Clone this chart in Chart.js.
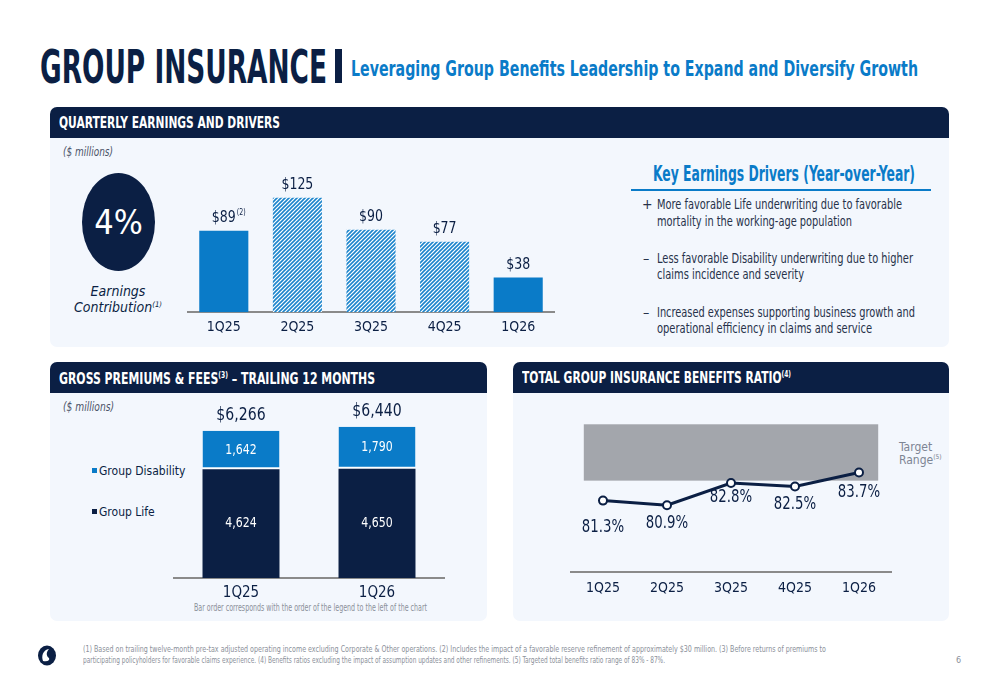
<!DOCTYPE html>
<html>
<head>
<meta charset="utf-8">
<script src="https://cdn.jsdelivr.net/npm/chart.js@4.4.1/dist/chart.umd.min.js"></script>
<style>
body { margin: 0; width: 1000px; height: 685px; background: #fff; position: relative; overflow: hidden;
       font-family: "Liberation Sans Narrow", "DejaVu Sans Condensed", Roboto, sans-serif; color: #0b1f44; }
.t { position: absolute; white-space: nowrap; line-height: 1; transform-origin: 0 50%; }
.panel { position: absolute; background: #f3f7fd; border-radius: 7px; }
.hdr { position: absolute; left: 0; right: 0; top: 0; height: 31px; background: #0b1f44; border-radius: 7px 7px 0 0; }
.hd { color: #fff; font-weight: bold; font-size: 15px; }
.bul { font-size: 14px; color: #27324a; }
.note { font-size: 9px; color: #8b909a; }
.box { position: absolute; }
sup { font-size: 0.55em; vertical-align: 0.7em; line-height: 0; }
.sq { display: inline-block; width: 5px; height: 5px; margin-right: 2px; vertical-align: 2px; }
</style>
</head>
<body>

<div class="t" data-w="287" style="left:40px;top:43px;font-size:47px;font-weight:bold">GROUP INSURANCE</div>
<div class="box" style="left:335px;top:49px;width:7px;height:34px;background:#0b1f44"></div>
<div class="t" data-w="567" style="left:351px;top:58px;font-size:22px;font-weight:bold;color:#0a7bc8">Leveraging Group Benefits Leadership to Expand and Diversify Growth</div>

<div class="panel" style="left:50px;top:107px;width:899px;height:240px"><div class="hdr"></div></div>
<div class="panel" style="left:50px;top:362px;width:437px;height:259px"><div class="hdr"></div></div>
<div class="panel" style="left:513px;top:362px;width:436px;height:259px"><div class="hdr"></div></div>

<div class="t hd" data-w="221" style="left:59px;top:116px">QUARTERLY EARNINGS AND DRIVERS</div>
<div class="t hd" data-w="316" style="left:59px;top:372px">GROSS PREMIUMS &amp; FEES<sup>(3)</sup> – TRAILING 12 MONTHS</div>
<div class="t hd" data-w="269" style="left:522px;top:371px">TOTAL GROUP INSURANCE BENEFITS RATIO<sup>(4)</sup></div>

<div class="t" data-w="50" style="left:63px;top:146px;font-size:12px;font-style:italic;color:#4b5468">($ millions)</div>
<div class="t" data-w="51" style="left:63px;top:401px;font-size:12px;font-style:italic;color:#4b5468">($ millions)</div>

<div class="box" style="left:82px;top:173px;width:73px;height:98px;border-radius:50%;background:#0b1f44"></div>
<div class="t" style="left:82px;top:205px;width:73px;text-align:center;font-size:34px;color:#fff">4%</div>
<div class="t" style="left:58px;top:284px;width:120px;text-align:center;font-size:14px;font-style:italic">Earnings</div>
<div class="t" style="left:58px;top:300px;width:120px;text-align:center;font-size:14px;font-style:italic">Contribution<sup>(1)</sup></div>

<div class="t" data-w="262" style="left:653px;top:164px;font-size:21px;font-weight:bold;color:#0a7bc8">Key Earnings Drivers (Year-over-Year)</div>
<div class="box" style="left:631px;top:189px;width:300px;height:1.5px;background:#0a7bc8"></div>
<div class="t bul" style="left:642px;top:197px">+</div>
<div class="t bul" data-w="245" style="left:657px;top:197px">More favorable Life underwriting due to favorable</div>
<div class="t bul" data-w="195" style="left:657px;top:214px">mortality in the working-age population</div>
<div class="t bul" style="left:643px;top:251px">–</div>
<div class="t bul" data-w="256" style="left:657px;top:251px">Less favorable Disability underwriting due to higher</div>
<div class="t bul" data-w="147" style="left:657px;top:267px">claims incidence and severity</div>
<div class="t bul" style="left:643px;top:305px">–</div>
<div class="t bul" data-w="258" style="left:657px;top:305px">Increased expenses supporting business growth and</div>
<div class="t bul" data-w="215" style="left:657px;top:321px">operational efficiency in claims and service</div>

<div id="legend2"></div>
<div class="t" data-w="233" style="left:194px;top:603px;font-size:10px;color:#8b909a">Bar order corresponds with the order of the legend to the left of the chart</div>

<div class="t" style="left:899px;top:441px;font-size:12px;color:#7d8594">Target</div>
<div class="t" style="left:899px;top:454px;font-size:12px;color:#7d8594">Range<sup>(5)</sup></div>

<svg class="box" style="left:37px;top:645px" width="20" height="21" viewBox="0 0 20 21">
  <ellipse cx="10" cy="10.5" rx="9" ry="10" fill="#0b1f44"/>
  <path d="M6 16 C4 11 6 5 12 4 C9 7 9 11 12 13 C13 15 11 17 6 16 Z" fill="#fff"/>
</svg>
<div class="t note" data-w="743" style="left:83px;top:645px">(1) Based on trailing twelve-month pre-tax adjusted operating income excluding Corporate &amp; Other operations. (2) Includes the impact of a favorable reserve refinement of approximately $30 million. (3) Before returns of premiums to</div>
<div class="t note" data-w="582" style="left:83px;top:656px">participating policyholders for favorable claims experience. (4) Benefits ratios excluding the impact of assumption updates and other refinements. (5) Targeted total benefits ratio range of 83% - 87%.</div>
<div class="t note" style="left:956px;top:656px">6</div>

<div class="box" style="left:187px;top:160px;width:368px;height:183px"><canvas id="earnings"></canvas></div>
<div class="box" style="left:173px;top:395px;width:272px;height:213px"><canvas id="premiums"></canvas></div>
<div class="box" style="left:565px;top:395px;width:332px;height:210px"><canvas id="ratio"></canvas></div>

<script>
const FONT = '"Liberation Sans Narrow", "DejaVu Sans Condensed", Roboto, sans-serif';
const NAVY = "#0b1f44";
const BLUE = "#0a7bc8";
const SQUEEZE = 0.87;

// quarterly earnings ($ millions)
const quarters = ["1Q25", "2Q25", "3Q25", "4Q25", "1Q26"];
const earnings = [89, 125, 90, 77, 38];
const earningsLabels = ["$89", "$125", "$90", "$77", "$38"];
const earningsNotes = ["(2)", "", "", "", ""];

// gross premiums & fees, trailing 12 months
const periods = ["1Q25", "1Q26"];
const groupLife = [4624, 4650];
const groupDisability = [1642, 1790];
const premiumTotals = ["$6,266", "$6,440"];

// benefits ratio (%)
const benefitsRatio = [81.3, 80.9, 82.8, 82.5, 83.7];
const targetRange = [83, 87.8];

Chart.defaults.font.family = FONT;
Chart.defaults.color = NAVY;
Chart.defaults.animation = false;

function fitText() {
    document.querySelectorAll("[data-w]").forEach(el => {
        const w = el.getBoundingClientRect().width;
        el.style.transform = "scaleX(" + (parseFloat(el.dataset.w) / w) + ")";
    });
}

// draw canvas text a bit narrower, the slide font is condensed
function narrowText(ctx, text, x, y) {
    ctx.save();
    ctx.translate(x, y);
    ctx.scale(SQUEEZE, 1);
    ctx.fillText(text, 0, 0);
    ctx.restore();
}

function hatch() {
    const c = document.createElement("canvas");
    c.width = 4; c.height = 4;
    const g = c.getContext("2d");
    g.fillStyle = "#ffffff";
    g.fillRect(0, 0, 4, 4);
    g.strokeStyle = "#1b84cc";
    g.lineWidth = 1.6;
    g.beginPath();
    g.moveTo(-1, 5); g.lineTo(5, -1);
    g.moveTo(-1, 1); g.lineTo(1, -1);
    g.moveTo(3, 5); g.lineTo(5, 3);
    g.stroke();
    return g.createPattern(c, "repeat");
}

function xAxis(size, pad) {
    return {
        grid: { display: false, drawTicks: false },
        border: { display: true, color: "#8a8a8a", width: 2 },
        ticks: { font: { size: size }, color: NAVY, padding: pad },
    };
}

// --- quarterly earnings bars
const pat = hatch();
new Chart(document.getElementById("earnings"), {
    type: "bar",
    data: {
        labels: quarters,
        datasets: [{
            data: earnings,
            backgroundColor: [BLUE, pat, pat, pat, BLUE],
            barPercentage: 0.667,
            categoryPercentage: 1,
        }],
    },
    options: {
        responsive: true,
        maintainAspectRatio: false,
        layout: { padding: { top: 24 } },
        plugins: { legend: { display: false }, tooltip: { enabled: false } },
        scales: {
            x: xAxis(14, 7),
            y: { display: false, min: 0, max: 140 },
        },
    },
    plugins: [{
        id: "barLabels",
        afterDatasetsDraw(chart) {
            const ctx = chart.ctx;
            ctx.save();
            ctx.fillStyle = NAVY;
            ctx.textBaseline = "middle";
            chart.getDatasetMeta(0).data.forEach((bar, i) => {
                ctx.font = "16px " + FONT;
                ctx.textAlign = "center";
                const y = bar.y - 13;
                narrowText(ctx, earningsLabels[i], bar.x, y);
                if (earningsNotes[i]) {
                    const w = ctx.measureText(earningsLabels[i]).width * SQUEEZE;
                    ctx.font = "8px " + FONT;
                    ctx.textAlign = "left";
                    narrowText(ctx, earningsNotes[i], bar.x + w / 2 + 1, y - 5);
                }
            });
            ctx.restore();
        },
    }],
});

// --- gross premiums stacked bars
const premiumsChart = new Chart(document.getElementById("premiums"), {
    type: "bar",
    data: {
        labels: periods,
        datasets: [
            { label: "Group Life", data: groupLife, backgroundColor: NAVY,
              barPercentage: 0.566, categoryPercentage: 1 },
            { label: "Group Disability", data: groupDisability, backgroundColor: BLUE,
              borderColor: "#ffffff", borderWidth: { top: 0, left: 0, right: 0, bottom: 2 }, borderSkipped: false,
              barPercentage: 0.566, categoryPercentage: 1 },
        ],
    },
    options: {
        responsive: true,
        maintainAspectRatio: false,
        layout: { padding: { top: 18.5 } },
        plugins: { legend: { display: false }, tooltip: { enabled: false } },
        scales: {
            x: Object.assign(xAxis(15, 6), { stacked: true }),
            y: { display: false, stacked: true, min: 0, max: 7000 },
        },
    },
    plugins: [{
        id: "stackLabels",
        afterDatasetsDraw(chart) {
            const ctx = chart.ctx;
            ctx.save();
            ctx.textAlign = "center";
            ctx.textBaseline = "middle";
            chart.data.datasets.forEach((ds, d) => {
                chart.getDatasetMeta(d).data.forEach((bar, i) => {
                    ctx.font = "14px " + FONT;
                    ctx.fillStyle = "#ffffff";
                    narrowText(ctx, ds.data[i].toLocaleString("en-US"), bar.x, (bar.y + bar.base) / 2);
                    if (d === chart.data.datasets.length - 1) {
                        ctx.font = "18px " + FONT;
                        ctx.fillStyle = NAVY;
                        narrowText(ctx, premiumTotals[i], bar.x, bar.y - 15);
                    }
                });
            });
            ctx.restore();
        },
    }],
});

// html legend, in dataset order from top of the stack
const legendColors = { "Group Life": NAVY, "Group Disability": BLUE };
const legendTops = [465, 506];
document.getElementById("legend2").innerHTML = premiumsChart.data.datasets.slice().reverse().map((ds, i) =>
    `<div class="t" style="left:92px;top:${legendTops[i]}px;font-size:12px"><span class="sq" style="background:${legendColors[ds.label]}"></span>${ds.label}</div>`
).join("");

// --- benefits ratio line
new Chart(document.getElementById("ratio"), {
    type: "line",
    data: {
        labels: quarters,
        datasets: [{
            data: benefitsRatio,
            borderColor: NAVY,
            borderWidth: 3,
            tension: 0,
            pointRadius: 4,
            pointBorderWidth: 2,
            pointBackgroundColor: "#ffffff",
            pointBorderColor: NAVY,
        }],
    },
    options: {
        responsive: true,
        maintainAspectRatio: false,
        layout: { padding: { top: 15.2 } },
        plugins: {
            legend: { display: false },
            tooltip: { enabled: false },
        },
        scales: {
            x: Object.assign(xAxis(14, 8), { offset: true }),
            y: { display: false, min: 75.2, max: 89 },
        },
    },
    plugins: [{
        id: "targetBand",
        beforeDatasetsDraw(chart) {
            const { ctx, scales: { x, y } } = chart;
            const left = x.getPixelForValue(-0.3), right = x.getPixelForValue(4.3);
            const top = y.getPixelForValue(targetRange[1]), bottom = y.getPixelForValue(targetRange[0]);
            ctx.save();
            ctx.fillStyle = "#a3a6ac";
            ctx.fillRect(left, top, right - left, bottom - top);
            ctx.restore();
        },
        afterDatasetsDraw(chart) {
            const ctx = chart.ctx;
            const offsets = [27, 18, 15, 18, 20];
            ctx.save();
            ctx.font = "17px " + FONT;
            ctx.fillStyle = NAVY;
            ctx.textAlign = "center";
            ctx.textBaseline = "middle";
            chart.getDatasetMeta(0).data.forEach((pt, i) => {
                narrowText(ctx, benefitsRatio[i].toFixed(1) + "%", pt.x, pt.y + offsets[i]);
            });
            ctx.restore();
        },
    }],
});

fitText();
</script>
</body>
</html>
